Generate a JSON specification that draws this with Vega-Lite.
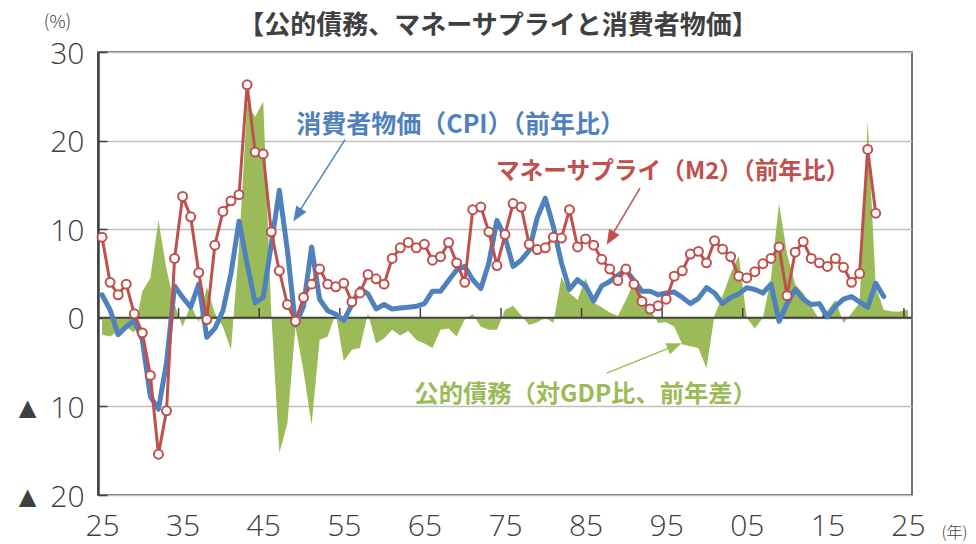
{
  "$schema": "https://vega.github.io/schema/vega-lite/v6.json",
  "width": 814,
  "height": 443,
  "autosize": {"type": "none"},
  "padding": {"left": 98, "top": 52, "right": 64, "bottom": 49},
  "background": "white",
  "config": {
    "view": {"stroke": "#404040", "strokeWidth": 1.5},
    "font": "Noto Sans CJK JP"
  },
  "title": {
    "text": "【公的債務、マネーサプライと消費者物価】",
    "font": "Noto Sans CJK JP",
    "fontSize": 26,
    "fontWeight": "bold",
    "color": "#404040",
    "anchor": "middle",
    "baseline": "bottom",
    "dx": -7,
    "dy": 52,
    "offset": 0
  },
  "datasets": {
    "main": [
      {"year": 1925, "debt": -1.9, "cpi": 2.6, "m2": 9.1},
      {"year": 1926, "debt": -2.1, "cpi": 0.9, "m2": 4.0},
      {"year": 1927, "debt": -1.5, "cpi": -1.9, "m2": 2.6},
      {"year": 1928, "debt": -1.0, "cpi": -1.0, "m2": 3.8},
      {"year": 1929, "debt": -1.7, "cpi": -0.3, "m2": 0.45},
      {"year": 1930, "debt": 3.0, "cpi": -2.5, "m2": -1.7},
      {"year": 1931, "debt": 4.5, "cpi": -8.9, "m2": -6.5},
      {"year": 1932, "debt": 11.0, "cpi": -10.3, "m2": -15.4},
      {"year": 1933, "debt": 5.5, "cpi": -5.1, "m2": -10.5},
      {"year": 1934, "debt": 1.5, "cpi": 3.6, "m2": 6.7},
      {"year": 1935, "debt": -1.0, "cpi": 2.3, "m2": 13.7},
      {"year": 1936, "debt": 1.5, "cpi": 1.2, "m2": 11.4},
      {"year": 1937, "debt": -0.5, "cpi": 3.8, "m2": 5.1},
      {"year": 1938, "debt": 3.5, "cpi": -2.2, "m2": -0.2},
      {"year": 1939, "debt": 0.5, "cpi": -1.2, "m2": 8.2},
      {"year": 1940, "debt": -1.0, "cpi": 0.8, "m2": 12.0},
      {"year": 1941, "debt": -3.6, "cpi": 5.0, "m2": 13.2},
      {"year": 1942, "debt": 8.0, "cpi": 10.9, "m2": 13.9},
      {"year": 1943, "debt": 24.2, "cpi": 6.1, "m2": 26.3},
      {"year": 1944, "debt": 22.7, "cpi": 1.7, "m2": 18.7},
      {"year": 1945, "debt": 24.4, "cpi": 2.3, "m2": 18.5},
      {"year": 1946, "debt": 0.5, "cpi": 8.3, "m2": 9.7},
      {"year": 1947, "debt": -15.3, "cpi": 14.4, "m2": 5.3},
      {"year": 1948, "debt": -11.9, "cpi": 7.6, "m2": 1.5},
      {"year": 1949, "debt": -1.0, "cpi": -0.8, "m2": -0.4},
      {"year": 1950, "debt": -6.0, "cpi": 1.3, "m2": 2.3},
      {"year": 1951, "debt": -12.1, "cpi": 8.0, "m2": 3.8},
      {"year": 1952, "debt": -2.5, "cpi": 2.1, "m2": 5.5},
      {"year": 1953, "debt": -2.1, "cpi": 0.8, "m2": 3.8},
      {"year": 1954, "debt": 0.5, "cpi": 0.4, "m2": 3.5},
      {"year": 1955, "debt": -4.9, "cpi": -0.3, "m2": 3.9},
      {"year": 1956, "debt": -3.6, "cpi": 1.5, "m2": 1.8},
      {"year": 1957, "debt": -3.4, "cpi": 3.3, "m2": 2.8},
      {"year": 1958, "debt": 0.5, "cpi": 2.7, "m2": 4.9},
      {"year": 1959, "debt": -2.9, "cpi": 1.0, "m2": 4.4},
      {"year": 1960, "debt": -2.3, "cpi": 1.5, "m2": 3.8},
      {"year": 1961, "debt": -1.35, "cpi": 1.0, "m2": 6.7},
      {"year": 1962, "debt": -2.0, "cpi": 1.1, "m2": 7.9},
      {"year": 1963, "debt": -1.5, "cpi": 1.2, "m2": 8.5},
      {"year": 1964, "debt": -2.5, "cpi": 1.3, "m2": 7.9},
      {"year": 1965, "debt": -2.9, "cpi": 1.6, "m2": 8.3},
      {"year": 1966, "debt": -3.4, "cpi": 3.0, "m2": 6.5},
      {"year": 1967, "debt": -1.35, "cpi": 3.0, "m2": 6.9},
      {"year": 1968, "debt": -1.2, "cpi": 4.2, "m2": 8.5},
      {"year": 1969, "debt": -2.1, "cpi": 5.4, "m2": 6.2},
      {"year": 1970, "debt": -0.15, "cpi": 5.8, "m2": 4.0},
      {"year": 1971, "debt": 0.4, "cpi": 4.3, "m2": 12.2},
      {"year": 1972, "debt": -1.0, "cpi": 3.3, "m2": 12.5},
      {"year": 1973, "debt": -1.35, "cpi": 6.2, "m2": 9.7},
      {"year": 1974, "debt": -1.35, "cpi": 11.0, "m2": 5.9},
      {"year": 1975, "debt": 0.9, "cpi": 9.1, "m2": 9.4},
      {"year": 1976, "debt": 1.35, "cpi": 5.8, "m2": 12.9},
      {"year": 1977, "debt": 0.3, "cpi": 6.5, "m2": 12.5},
      {"year": 1978, "debt": -0.8, "cpi": 7.6, "m2": 8.3},
      {"year": 1979, "debt": -0.5, "cpi": 11.3, "m2": 7.7},
      {"year": 1980, "debt": 0.0, "cpi": 13.5, "m2": 7.9},
      {"year": 1981, "debt": -0.6, "cpi": 10.3, "m2": 9.1},
      {"year": 1982, "debt": 4.6, "cpi": 6.2, "m2": 9.0},
      {"year": 1983, "debt": 2.8, "cpi": 3.2, "m2": 12.2},
      {"year": 1984, "debt": 2.0, "cpi": 4.3, "m2": 8.0},
      {"year": 1985, "debt": 4.5, "cpi": 3.6, "m2": 8.9},
      {"year": 1986, "debt": 1.7, "cpi": 1.9, "m2": 8.2},
      {"year": 1987, "debt": 1.2, "cpi": 3.6, "m2": 6.6},
      {"year": 1988, "debt": 0.6, "cpi": 4.1, "m2": 5.5},
      {"year": 1989, "debt": 0.2, "cpi": 4.8, "m2": 4.2},
      {"year": 1990, "debt": 2.0, "cpi": 5.4, "m2": 5.5},
      {"year": 1991, "debt": 4.0, "cpi": 4.2, "m2": 3.8},
      {"year": 1992, "debt": 2.5, "cpi": 3.0, "m2": 1.85},
      {"year": 1993, "debt": 1.0, "cpi": 3.0, "m2": 1.0},
      {"year": 1994, "debt": -0.6, "cpi": 2.6, "m2": 1.35},
      {"year": 1995, "debt": -0.5, "cpi": 2.8, "m2": 2.1},
      {"year": 1996, "debt": -1.0, "cpi": 2.9, "m2": 4.7},
      {"year": 1997, "debt": -3.0, "cpi": 2.3, "m2": 5.3},
      {"year": 1998, "debt": -3.2, "cpi": 1.6, "m2": 7.2},
      {"year": 1999, "debt": -3.4, "cpi": 2.2, "m2": 7.5},
      {"year": 2000, "debt": -5.7, "cpi": 3.4, "m2": 6.2},
      {"year": 2001, "debt": 0.3, "cpi": 2.8, "m2": 8.7},
      {"year": 2002, "debt": 2.5, "cpi": 1.6, "m2": 7.75},
      {"year": 2003, "debt": 5.0, "cpi": 2.3, "m2": 6.9},
      {"year": 2004, "debt": 7.0, "cpi": 2.7, "m2": 4.7},
      {"year": 2005, "debt": 0.0, "cpi": 3.4, "m2": 4.5},
      {"year": 2006, "debt": -1.2, "cpi": 3.2, "m2": 5.2},
      {"year": 2007, "debt": 0.0, "cpi": 2.8, "m2": 6.1},
      {"year": 2008, "debt": 4.5, "cpi": 3.8, "m2": 6.7},
      {"year": 2009, "debt": 12.9, "cpi": -0.4, "m2": 8.0},
      {"year": 2010, "debt": 7.2, "cpi": 1.6, "m2": 2.5},
      {"year": 2011, "debt": 3.8, "cpi": 3.2, "m2": 7.4},
      {"year": 2012, "debt": 2.8, "cpi": 2.1, "m2": 8.6},
      {"year": 2013, "debt": 1.3, "cpi": 1.5, "m2": 6.7},
      {"year": 2014, "debt": -0.2, "cpi": 1.6, "m2": 6.2},
      {"year": 2015, "debt": 0.8, "cpi": 0.1, "m2": 5.8},
      {"year": 2016, "debt": 2.0, "cpi": 1.3, "m2": 6.7},
      {"year": 2017, "debt": -0.6, "cpi": 2.1, "m2": 5.7},
      {"year": 2018, "debt": 0.5, "cpi": 2.4, "m2": 4.0},
      {"year": 2019, "debt": 1.7, "cpi": 1.8, "m2": 5.0},
      {"year": 2020, "debt": 22.2, "cpi": 1.2, "m2": 19.0},
      {"year": 2021, "debt": 3.5, "cpi": 3.9, "m2": 11.8},
      {"year": 2022, "debt": 0.9, "cpi": 2.4, "m2": null},
      {"year": 2023, "debt": 0.7, "cpi": null, "m2": null},
      {"year": 2024, "debt": 0.7, "cpi": null, "m2": null},
      {"year": 2025, "debt": 0.9, "cpi": null, "m2": null}
    ],
    "ticks": [
      {"t": 1934.5}, {"t": 1944.5}, {"t": 1954.5}, {"t": 1964.5}, {"t": 1974.5},
      {"t": 1984.5}, {"t": 1994.5}, {"t": 2004.5}, {"t": 2014.5}, {"t": 2024.5}
    ],
    "one": [{}]
  },
  "layer": [
    {
      "data": {"name": "main"},
      "mark": {"type": "area", "color": "#9BBB59", "opacity": 1},
      "encoding": {
        "x": {
          "field": "year", "type": "quantitative",
          "scale": {"domain": [1924.5, 2025.5], "nice": false, "zero": false},
          "axis": {
            "values": [1925, 1935, 1945, 1955, 1965, 1975, 1985, 1995, 2005, 2015, 2025],
            "labelExpr": "substring(toString(datum.value), 2)",
            "ticks": false, "domain": false, "grid": false,
            "labelFont": "Open Sans, DejaVu Sans, sans-serif",
            "labelFontSize": 30, "labelFontWeight": 300, "labelColor": "#404040", "labelPadding": 16,
            "labelFlush": false, "labelOverlap": false,
            "title": "(年)", "titleAngle": 0, "titleX": 856, "titleY": 37,
            "titleFont": "Noto Sans CJK JP", "titleFontSize": 16, "titleFontWeight": 300,
            "titleColor": "#404040", "titleAlign": "center", "titleBaseline": "middle"
          }
        },
        "y": {
          "field": "debt", "type": "quantitative",
          "scale": {"domain": [-20, 30], "nice": false, "zero": false},
          "axis": {
            "values": [-20, -10, 0, 10, 20, 30],
            "labelExpr": "datum.value < 0 ? '▲   ' + abs(datum.value) : datum.label",
            "grid": true, "gridColor": "#BFBFBF", "gridWidth": 1.5,
            "tickSize": -9, "tickColor": "#404040", "tickWidth": 1.5,
            "domainColor": "#404040", "domainWidth": 2.5,
            "labelFont": "Open Sans, DejaVu Sans, sans-serif",
            "labelFontSize": 30, "labelFontWeight": 300, "labelColor": "#404040", "labelPadding": 23,
            "labelOffset": 2,
            "title": "(%)", "titleAngle": 0, "titleX": -41, "titleY": -30,
            "titleFont": "Noto Sans CJK JP", "titleFontSize": 18, "titleFontWeight": 300,
            "titleColor": "#404040", "titleAlign": "center", "titleBaseline": "middle"
          }
        },
        "y2": {"datum": 0}
      }
    },
    {
      "data": {"name": "one"},
      "mark": {"type": "rule", "color": "#404040", "strokeWidth": 2},
      "encoding": {"y": {"datum": 0, "type": "quantitative"}}
    },
    {
      "data": {"name": "ticks"},
      "mark": {"type": "rule", "color": "#404040", "strokeWidth": 1.5},
      "encoding": {
        "x": {"field": "t", "type": "quantitative"},
        "y": {"datum": 0, "type": "quantitative"},
        "y2": {"datum": 1.1}
      }
    },
    {
      "data": {"name": "main"},
      "mark": {"type": "line", "color": "#4F81BD", "strokeWidth": 5, "strokeJoin": "round", "strokeCap": "round"},
      "encoding": {
        "x": {"field": "year", "type": "quantitative"},
        "y": {"field": "cpi", "type": "quantitative"}
      }
    },
    {
      "data": {"name": "main"},
      "mark": {
        "type": "line", "color": "#C0504D", "strokeWidth": 3, "strokeJoin": "round",
        "point": {"filled": true, "fill": "white", "stroke": "#C0504D", "strokeWidth": 2, "size": 80, "opacity": 1}
      },
      "encoding": {
        "x": {"field": "year", "type": "quantitative"},
        "y": {"field": "m2", "type": "quantitative"}
      }
    },
    {
      "data": {"name": "one"},
      "mark": {"type": "rule", "color": "#4F81BD", "strokeWidth": 1.5},
      "encoding": {
        "x": {"datum": 1955.15, "type": "quantitative"}, "y": {"datum": 20.1, "type": "quantitative"},
        "x2": {"datum": 1948.9}, "y2": {"datum": 11.2}
      }
    },
    {
      "data": {"name": "one"},
      "mark": {"type": "point", "shape": "M0,0L-0.6,1.5L0.6,1.5Z", "filled": true, "color": "#4F81BD", "size": 400, "angle": 212.3, "opacity": 1},
      "encoding": {"x": {"datum": 1948.73, "type": "quantitative"}, "y": {"datum": 10.87, "type": "quantitative"}}
    },
    {
      "data": {"name": "one"},
      "mark": {"type": "rule", "color": "#C0504D", "strokeWidth": 1.5},
      "encoding": {
        "x": {"datum": 1991.75, "type": "quantitative"}, "y": {"datum": 14.64, "type": "quantitative"},
        "x2": {"datum": 1987.8}, "y2": {"datum": 8.6}
      }
    },
    {
      "data": {"name": "one"},
      "mark": {"type": "point", "shape": "M0,0L-0.6,1.5L0.6,1.5Z", "filled": true, "color": "#C0504D", "size": 400, "angle": 210.4, "opacity": 1},
      "encoding": {"x": {"datum": 1987.62, "type": "quantitative"}, "y": {"datum": 8.24, "type": "quantitative"}}
    },
    {
      "data": {"name": "one"},
      "mark": {"type": "rule", "color": "#9BBB59", "strokeWidth": 1.5},
      "encoding": {
        "x": {"datum": 1987.62, "type": "quantitative"}, "y": {"datum": -6.24, "type": "quantitative"},
        "x2": {"datum": 1996.5}, "y2": {"datum": -3.0}
      }
    },
    {
      "data": {"name": "one"},
      "mark": {"type": "point", "shape": "M0,0L-0.6,1.5L0.6,1.5Z", "filled": true, "color": "#9BBB59", "size": 400, "angle": 68.2, "opacity": 1},
      "encoding": {"x": {"datum": 1996.92, "type": "quantitative"}, "y": {"datum": -2.86, "type": "quantitative"}}
    },
    {
      "data": {"name": "one"},
      "mark": {"type": "text", "font": "Noto Sans CJK JP", "fontWeight": "bold", "fontSize": 25, "color": "#4F81BD", "align": "center", "baseline": "middle"},
      "encoding": {
        "x": {"datum": 1969.5, "type": "quantitative"}, "y": {"datum": 21.8, "type": "quantitative"},
        "text": {"value": "消費者物価（CPI）（前年比）"}
      }
    },
    {
      "data": {"name": "one"},
      "mark": {"type": "text", "font": "Noto Sans CJK JP", "fontWeight": "bold", "fontSize": 23.7, "color": "#C0504D", "align": "center", "baseline": "middle"},
      "encoding": {
        "x": {"datum": 1995.8, "type": "quantitative"}, "y": {"datum": 16.5, "type": "quantitative"},
        "text": {"value": "マネーサプライ（M2）（前年比）"}
      }
    },
    {
      "data": {"name": "one"},
      "mark": {"type": "text", "font": "Noto Sans CJK JP", "fontWeight": "bold", "fontSize": 24.3, "color": "#9BBB59", "align": "center", "baseline": "middle"},
      "encoding": {
        "x": {"datum": 1985.0, "type": "quantitative"}, "y": {"datum": -8.7, "type": "quantitative"},
        "text": {"value": "公的債務（対GDP比、前年差）"}
      }
    }
  ]
}
